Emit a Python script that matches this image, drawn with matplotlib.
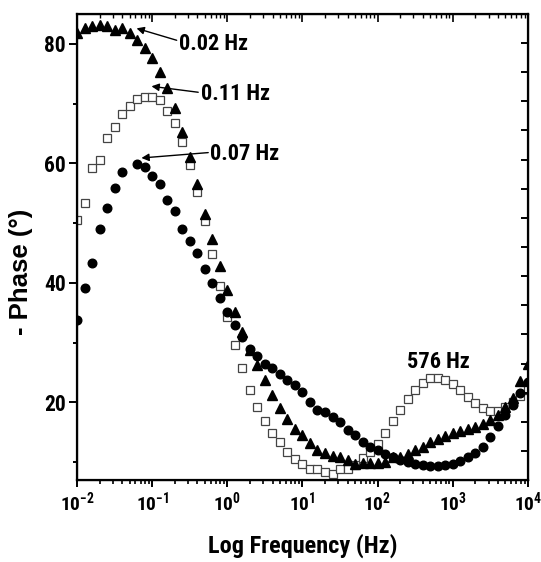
import numpy as np
import matplotlib
matplotlib.use('Agg')
import matplotlib.pyplot as plt
from matplotlib import font_manager as fm
from matplotlib.ticker import (LogFormatterMathtext, MultipleLocator, NullFormatter,
                               FixedLocator, LogLocator)


def is_bold(f):
    w = f.weight
    if isinstance(w, str):
        return w.lower() in ('bold', 'heavy', 'extra bold', 'black') or w == '700'
    return w >= 700


# look for a narrow / condensed bold sans (the original uses an Arial Narrow look)
picked = None
for fam in ['Liberation Sans Narrow', 'Arial Narrow', 'Roboto Condensed', 'Open Sans Condensed',
            'Noto Sans', 'DejaVu Sans', 'Open Sans', 'Roboto']:
    for f in fm.fontManager.ttflist:
        if f.name != fam or not is_bold(f) or f.style != 'normal':
            continue
        narrow_name = ('Narrow' in fam) or ('Condensed' in fam)
        if narrow_name or str(f.stretch) in ('condensed', 'semi-condensed', '75', '87.5'):
            picked = (fam, str(f.stretch))
            break
    if picked:
        break

if picked:
    plt.rcParams['font.family'] = [picked[0], 'DejaVu Sans']
    plt.rcParams['font.stretch'] = picked[1]
    k = 1.0
else:
    plt.rcParams['font.family'] = ['Liberation Sans', 'DejaVu Sans']
    k = 0.87
plt.rcParams['font.weight'] = 'bold'

# Frequency grid (Hz), 10 points per decade
freq = [0.01, 0.0126, 0.0158, 0.02, 0.0251, 0.0316, 0.0398, 0.0501, 0.0631, 0.0794,
        0.1, 0.126, 0.158, 0.2, 0.251, 0.316, 0.398, 0.501, 0.631, 0.794,
        1, 1.26, 1.58, 2, 2.51, 3.16, 3.98, 5.01, 6.31, 7.94,
        10, 12.6, 15.8, 20, 25.1, 31.6, 39.8, 50.1, 63.1, 79.4,
        100, 126, 158, 200, 251, 316, 398, 501, 631, 794,
        1000, 1260, 1580, 2000, 2510, 3160, 3980, 5010, 6310, 7940, 10000]

# - phase (deg), filled triangles
phase_tri = [81.8, 82.6, 83.0, 83.2, 83.0, 82.4, 82.6, 81.8, 80.7, 79.3,
             77.6, 75.3, 72.6, 69.2, 65.3, 61.1, 56.5, 51.6, 47.3, 42.8,
             38.8, 35.1, 31.7, 28.7, 26.2, 23.8, 21.2, 19.1, 17.2, 15.6,
             14.5, 13.2, 12.1, 11.5, 11.1, 10.9, 10.3, 9.7, 9.8, 9.8,
             9.9, 10.0, 10.8, 10.9, 11.4, 12.0, 12.5, 13.4, 13.8, 14.3,
             14.8, 15.2, 15.6, 15.9, 16.4, 17.1, 17.8, 19.3, 20.8, 23.6, 26.4]

# - phase (deg), open squares
phase_sq = [50.5, 53.3, 59.2, 60.6, 64.2, 66.1, 68.3, 69.6, 70.7, 71.1,
            71.1, 70.6, 68.8, 66.8, 63.6, 59.7, 55.2, 50.4, 44.9, 39.5,
            34.2, 29.6, 25.7, 22.1, 19.2, 16.8, 14.9, 13.4, 11.7, 10.5,
            9.7, 8.9, 8.8, 8.3, 8.0, 8.9, 8.9, 9.5, 10.6, 11.7,
            13.1, 14.9, 16.8, 18.7, 20.5, 22.1, 23.2, 24.1, 24.1, 23.7,
            23.0, 22.0, 20.9, 19.9, 19.0, 18.6, 18.6, 19.2, 20.0, 21.0, 22.0]

# - phase (deg), filled circles (one point missing in the original)
phase_circ = [33.8, 39.2, 43.3, 49.0, 52.6, 55.9, 58.6, np.nan, 59.9, 59.4,
              57.9, 56.5, 53.9, 52.0, 49.0, 47.0, 45.0, 42.3, 40.0, 37.5,
              35.2, 33.0, 31.0, 29.0, 27.7, 26.5, 25.7, 24.8, 23.7, 22.9,
              21.7, 20.0, 18.8, 18.3, 17.6, 16.7, 15.3, 14.6, 13.4, 12.6,
              12.0, 11.3, 10.8, 10.4, 10.0, 9.7, 9.5, 9.3, 9.3, 9.5,
              9.7, 10.2, 10.8, 11.5, 12.6, 14.2, 16.0, 17.8, 19.5, 21.6, 23.4]

decades = [0.01, 0.1, 1, 10, 100, 1000, 10000]

# annotations: label, arrow tip (f, phase), arrow tail (f, phase), text pos (f, phase)
notes = [('0.02 Hz', (0.062, 82.6), (0.212, 80.6), (0.227, 79.0)),
         ('0.11 Hz', (0.098, 72.9), (0.41, 71.9), (0.446, 70.6)),
         ('0.07 Hz', (0.072, 60.9), (0.557, 61.8), (0.587, 60.55))]

fig = plt.figure(figsize=(5.41, 5.62), dpi=100)
ax = fig.add_axes([0.1423, 0.1459, 0.8336, 0.8292])

ax.plot(freq, phase_sq, ls='none', marker='s', ms=5.4, mfc='white', mec='#444444', mew=0.9)
ax.plot(freq, phase_circ, ls='none', marker='o', ms=6.2, color='black')
ax.plot(freq, phase_tri, ls='none', marker='^', ms=6.8, color='black')

ax.set_xscale('log')
ax.set_xlim(0.01, 10000)
ax.set_ylim(7, 85)
ax.xaxis.set_major_locator(FixedLocator(decades))
ax.xaxis.set_minor_locator(LogLocator(base=10, subs=np.arange(2, 10), numticks=20))
ax.yaxis.set_major_locator(MultipleLocator(20))
ax.yaxis.set_minor_locator(MultipleLocator(10))
ax.xaxis.set_major_formatter(LogFormatterMathtext())
ax.xaxis.set_minor_formatter(NullFormatter())

ax.tick_params(axis='x', which='major', direction='out', length=5, width=1.4, labelsize=14 * k, pad=2)
ax.tick_params(axis='x', which='minor', direction='out', length=3, width=1.2)
ax.tick_params(axis='y', which='major', direction='out', length=6, width=1.4, labelsize=15.5 * k, pad=2)
ax.tick_params(axis='y', which='minor', direction='out', length=3, width=1.4)
for s in ax.spines.values():
    s.set_linewidth(1.6)

# top axis: inward ticks, no labels
axt = ax.twiny()
axt.set_xscale('log')
axt.set_xlim(ax.get_xlim())
axt.xaxis.set_major_locator(FixedLocator(decades))
axt.xaxis.set_minor_locator(LogLocator(base=10, subs=np.arange(2, 10), numticks=20))
axt.xaxis.set_major_formatter(NullFormatter())
axt.xaxis.set_minor_formatter(NullFormatter())
axt.tick_params(axis='x', which='major', direction='in', length=6, width=1.2, labeltop=False)
axt.tick_params(axis='x', which='minor', direction='in', length=3, width=1.0)

# right axis: inward ticks every 5, own range
axr = ax.twinx()
axr.set_ylim(5, 85)
axr.yaxis.set_major_locator(MultipleLocator(5))
axr.yaxis.set_major_formatter(NullFormatter())
axr.tick_params(axis='y', which='major', direction='in', length=5, width=1.4, labelright=False)

for label, tip, tail, tpos in notes:
    ax.annotate('', xy=tip, xytext=tail,
                arrowprops=dict(arrowstyle='-|>', lw=1.0, color='black',
                                mutation_scale=11, shrinkA=0, shrinkB=0))
    ax.text(tpos[0], tpos[1], label, fontsize=16 * k, fontweight='bold', ha='left', va='baseline')

ax.text(638, 25.7, '576 Hz', fontsize=16 * k, fontweight='bold', ha='center', va='baseline')

ax.set_xlabel('Log Frequency (Hz)', fontsize=17.5 * k, fontweight='bold')
# y label is set in a wider (regular width) bold face in the original
ax.set_ylabel('- Phase (\u00b0)', fontsize=18.5, fontweight='bold',
              family=['Liberation Sans', 'DejaVu Sans'], fontstretch='normal')
ax.xaxis.set_label_coords(0.5, -0.115)
ax.yaxis.set_label_coords(-0.097, 0.446)

fig.savefig('out.png', dpi=100)
